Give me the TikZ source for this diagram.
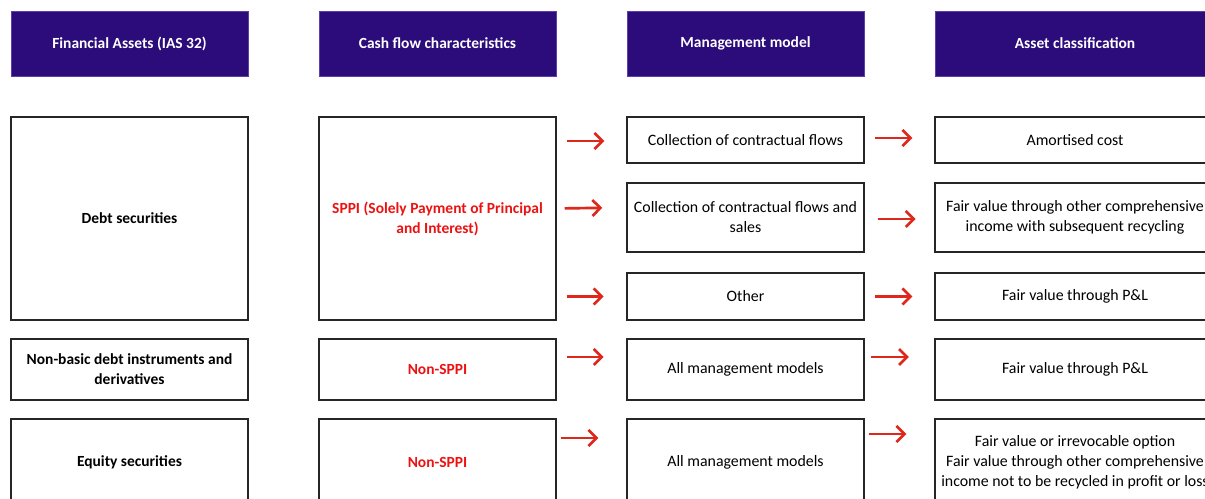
\documentclass[tikz,border=0pt]{standalone}
\usepackage{fontspec}
\setmainfont{Carlito}
\usetikzlibrary{arrows.meta}
\definecolor{headpurple}{RGB}{44,12,122}
\definecolor{headedge}{RGB}{92,64,170}
\definecolor{arrowred}{RGB}{222,40,28}
\definecolor{textred}{RGB}{236,18,18}
\begin{document}
\begin{tikzpicture}[x=0.75pt,y=-0.75pt,
  head/.style={fill=headpurple, draw=headedge, line width=0.6pt, text=white,
    font=\bfseries\fontsize{11.6}{14}\selectfont, minimum height=48.75pt, inner sep=0pt},
  cell/.style={draw=black!85, line width=1.1pt, fill=white, align=center, inner sep=2pt,
    font=\fontsize{11.9}{15}\selectfont},
  wide/.style={minimum width=177.75pt},
  wider/.style={minimum width=210pt},
  key/.style={font=\bfseries\fontsize{11.6}{15}\selectfont},
  redkey/.style={font=\bfseries\fontsize{11.6}{15}\selectfont, text=textred},
  flow/.style={draw=arrowred, line width=2pt, -{Straight Barb[length=6pt,width=12pt,line width=2pt]}},
]
\useasboundingbox (0,0) rectangle (1205,499);
\clip (0,0) rectangle (1205,499);
\fill[white] (0,0) rectangle (1205,499);

% column headers
\node[head, wide]  (h1) at (129.5,43.5) {Financial Assets (IAS 32)};
\node[head, wide]  (h2) at (437.5,43.5) {Cash flow characteristics};
\node[head, wide]  (h3) at (745.5,43.5) {Management model};
\node[head, wider] (h4) at (1075,43.5)  {Asset classification};

% debt securities
\node[cell, wide, key, minimum height=152.25pt]    (debt) at (129.5,218.5) {Debt securities};
\node[cell, wide, redkey, minimum height=152.25pt] (sppi) at (437.5,218.5)
  {SPPI (Solely Payment of Principal\\and Interest)};
\node[cell, wide, minimum height=34.5pt]  (m1) at (745.5,140)   {Collection of contractual flows};
\node[cell, wide, minimum height=51.75pt] (m2) at (745.5,217.5) {Collection of contractual flows and\\sales};
\node[cell, wide, minimum height=35.25pt] (m3) at (745.5,296.5) {Other};
\node[cell, wider, minimum height=34.5pt]  (c1) at (1075,140)   {Amortised cost};
\node[cell, wider, minimum height=51.75pt] (c2) at (1075,217.5) {Fair value through other comprehensive\\income with subsequent recycling};
\node[cell, wider, minimum height=35.25pt] (c3) at (1075,296.5) {Fair value through P\&L};

% non-basic debt instruments and derivatives
\node[cell, wide, key, minimum height=45.75pt] (nb)  at (129.5,369.5) {Non-basic debt instruments and\\derivatives};
\node[cell, wide, redkey, minimum height=45.75pt] (nbc) at (437.5,369.5) {Non-SPPI};
\node[cell, wide, minimum height=45.75pt]  (nbm) at (745.5,369.5) {All management models};
\node[cell, wider, minimum height=45.75pt] (nbr) at (1075,369.5)  {Fair value through P\&L};

% equity securities
\node[cell, wide, key, minimum height=64.5pt]  (eq)  at (129.5,462) {Equity securities};
\node[cell, wide, redkey, minimum height=64.5pt] (eqc) at (437.5,462) {Non-SPPI};
\node[cell, wide, minimum height=64.5pt]  (eqm) at (745.5,462) {All management models};
\node[cell, wider, minimum height=64.5pt] (eqr) at (1075,462)  {Fair value or irrevocable option\\Fair value through other comprehensive\\income not to be recycled in profit or loss};

% flows: cash flow test -> management model
\draw[flow, shorten <=7.5pt, shorten >=16.5pt] ([yshift=-0.75pt]sppi.east |- m1.west) -- ([yshift=-0.75pt]m1.west);
\draw[flow, shorten <=6pt,   shorten >=18pt]   ([yshift=7.5pt]sppi.east) -- ([yshift=7.5pt]m2.west);
\draw[flow, shorten <=7.5pt, shorten >=17pt]   (sppi.east |- m3.west) -- (m3.west);
\draw[flow, shorten <=7.5pt, shorten >=17pt]   ([yshift=9.4pt]nbc.east) -- ([yshift=9.4pt]nbm.west);
\draw[flow, shorten <=3pt,   shorten >=21pt]   ([yshift=18pt]eqc.east) -- ([yshift=18pt]eqm.west);

% flows: management model -> classification
\draw[flow, shorten <=8pt,   shorten >=16.5pt] ([yshift=1.5pt]m1.east) -- ([yshift=1.5pt]c1.west);
\draw[flow, shorten <=9.75pt, shorten >=14pt]  ([yshift=-1.1pt]m2.east) -- ([yshift=-1.1pt]c2.west);
\draw[flow, shorten <=7.5pt, shorten >=16.5pt] (m3.east) -- (c3.west);
\draw[flow, shorten <=5pt,   shorten >=19pt]   ([yshift=9.4pt]nbm.east) -- ([yshift=9.4pt]nbr.west);
\draw[flow, shorten <=3pt,   shorten >=21pt]   ([yshift=21pt]eqm.east) -- ([yshift=21pt]eqr.west);
\end{tikzpicture}
\end{document}
